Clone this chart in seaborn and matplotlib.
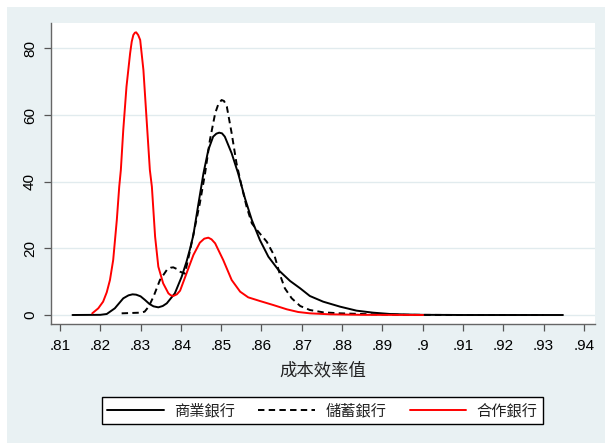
import matplotlib
matplotlib.use("Agg")
import matplotlib.pyplot as plt
from matplotlib.patches import Rectangle
import seaborn as sns
import pandas as pd

# 商業銀行 (commercial banks) density
com_x = [.8131, .8200, .8216, .8236, .8257, .8270, .8280, .8289, .8300, .8311, .8322, .8332,
         .8344, .8355, .8365, .8385, .8402, .8414, .8423, .8431, .8443, .8456, .8468, .8480,
         .8488, .8495, .8502, .8509, .8526, .8542, .8559, .8576, .8596, .8617, .8642, .8671,
         .8696, .8720, .8753, .8795, .8836, .8877, .8919, .8960, .9001, .9100, .9200, .9348]
com_y = [0.0, 0.05, 0.3, 2.0, 5.0, 5.9, 6.2, 6.1, 5.6, 4.5, 3.3, 2.6,
         2.3, 2.7, 3.5, 6.5, 11.5, 16.0, 20.0, 24.0, 33.0, 42.5, 49.5, 53.5,
         54.4, 54.7, 54.5, 53.5, 48.5, 42.5, 35.0, 28.5, 22.5, 17.5, 13.5, 10.2,
         8.0, 5.7, 4.0, 2.5, 1.3, 0.7, 0.3, 0.15, 0.05, 0.0, 0.0, 0.0]

# 儲蓄銀行 (savings banks) density
sav_x = [.8253, .8299, .8310, .8320, .8332, .8348, .8365, .8375, .8381, .8390, .8398, .8410,
         .8423, .8435, .8447, .8460, .8472, .8485, .8493, .8501, .8507, .8514, .8526, .8538,
         .8551, .8563, .8576, .8592, .8613, .8633, .8646, .8658, .8675, .8696, .8720, .8753,
         .8795, .8877, .8960, .9100, .9300]
sav_y = [0.5, 0.7, 1.0, 2.5, 5.5, 10.5, 13.5, 14.2, 14.3, 13.8, 13.0, 12.4,
         19.5, 26.5, 33.5, 42.5, 52.5, 60.5, 63.3, 64.5, 64.2, 62.5, 54.5, 45.5,
         38.5, 32.5, 27.5, 25.0, 22.0, 17.5, 12.0, 8.0, 5.0, 2.7, 1.5, 0.8,
         0.5, 0.2, 0.05, 0.0, 0.0]

# 合作銀行 (cooperative banks) density
coop_x = [.8180, .8195, .8207, .8216, .8224, .8232, .8241, .8247, .8251, .8257, .8265, .8274,
          .8278, .8282, .8286, .8289, .8294, .8299, .8307, .8315, .8323, .8328, .8336, .8344,
          .8356, .8369, .8375, .8381, .8390, .8398, .8414, .8431, .8447, .8458, .8468, .8476,
          .8485, .8505, .8526, .8547, .8567, .8596, .8629, .8663, .8691, .8720, .8770, .8850,
          .9001]
coop_y = [0.5, 2.0, 4.0, 6.8, 10.5, 16.5, 28.5, 38.5, 43.5, 55.5, 68.5, 78.5,
          82.0, 84.0, 84.7, 84.8, 84.0, 82.5, 73.5, 58.5, 43.5, 38.5, 23.5, 14.5,
          9.5, 6.5, 5.9, 5.7, 6.2, 7.3, 12.5, 18.0, 21.7, 22.9, 23.2, 22.7,
          21.5, 16.5, 10.5, 7.0, 5.3, 4.2, 3.0, 1.7, 0.9, 0.5, 0.2, 0.05,
          0.0]

labels = ["商業銀行", "儲蓄銀行", "合作銀行"]
xticks = [.81, .82, .83, .84, .85, .86, .87, .88, .89, .90, .91, .92, .93, .94]
xticklabels = [".81", ".82", ".83", ".84", ".85", ".86", ".87", ".88", ".89", ".9",
               ".91", ".92", ".93", ".94"]
yticks = [0, 20, 40, 60, 80]
xlabel = "成本效率值"

sns.set_theme(style="white")
plt.rcParams["font.family"] = ["Liberation Sans", "Noto Sans CJK TC", "DejaVu Sans"]

W, H = 605, 443
fig = plt.figure(figsize=(W / 100, H / 100), dpi=100)
fig.patch.set_facecolor("white")
bg = "#E9F1F3"
fig.patches.append(Rectangle((7 / W, 0), 1 - 7 / W, (H - 7) / H,
                             transform=fig.transFigure, facecolor=bg,
                             edgecolor="none", zorder=-10))

ax = fig.add_axes([51 / W, 1 - 324 / H, (595 - 51) / W, (324 - 23) / H])
ax.set_facecolor("white")

frames = [
    pd.DataFrame({"x": com_x, "y": com_y}),
    pd.DataFrame({"x": sav_x, "y": sav_y}),
    pd.DataFrame({"x": coop_x, "y": coop_y}),
]
colors = ["black", "black", "red"]
styles = ["-", (0, (3.3, 2.2)), "-"]
for df, lab, c, ls in zip(frames, labels, colors, styles):
    sns.lineplot(data=df, x="x", y="y", ax=ax, color=c, linestyle=ls,
                 linewidth=1.4, label=lab, sort=False)
for l in ax.get_lines():
    l.set_solid_joinstyle("round")
    l.set_dash_joinstyle("round")

ax.set_xlim(0.80777, 0.94275)
ax.set_ylim(-2.7, 87.6)
ax.set_xticks(xticks)
ax.set_xticklabels(xticklabels)
ax.set_yticks(yticks)
ax.set_yticklabels([str(v) for v in yticks], rotation=90, va="center")

ax.grid(False)
for v in yticks:
    ax.axhline(v, color="#E1EBEE", linewidth=1.0, zorder=0)

for s in ["top", "right"]:
    ax.spines[s].set_visible(False)
for s in ["left", "bottom"]:
    ax.spines[s].set_visible(True)
    ax.spines[s].set_color("#666666")
    ax.spines[s].set_linewidth(1.0)

ax.tick_params(axis="both", which="major", direction="out", length=5, width=0.9,
               color="#555555", labelsize=11, labelcolor="black",
               bottom=True, left=True)
ax.tick_params(axis="x", pad=6)
ax.tick_params(axis="y", pad=5)

ax.set_xlabel(xlabel, fontsize=12.5, color="#222222", labelpad=6,
              family=["Noto Sans CJK TC", "DejaVu Sans"])
ax.set_ylabel("")

leg = ax.legend(loc="center", bbox_to_anchor=(322.5 / W, 1 - 410.5 / H),
                bbox_transform=fig.transFigure, ncol=3, frameon=True,
                fancybox=False, edgecolor="black", facecolor="white",
                framealpha=1, handlelength=3.7, handletextpad=0.7,
                columnspacing=1.5, borderpad=0.35, borderaxespad=0,
                prop={"family": ["Noto Sans CJK TC", "DejaVu Sans"], "size": 11})
leg.get_frame().set_linewidth(1.0)
for t in leg.get_texts():
    t.set_color("#222222")

fig.savefig("out.png", dpi=100, facecolor=fig.get_facecolor())
